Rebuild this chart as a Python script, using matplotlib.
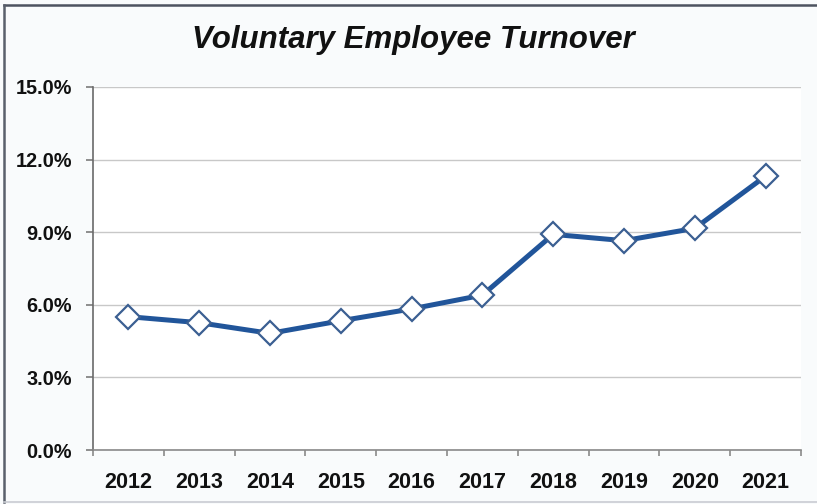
import matplotlib
matplotlib.use("Agg")
import matplotlib.pyplot as plt
from matplotlib.lines import Line2D
import numpy as np

years = ["2012", "2013", "2014", "2015", "2016", "2017", "2018", "2019", "2020", "2021"]
turnover = [5.51, 5.26, 4.82, 5.34, 5.83, 6.40, 8.91, 8.65, 9.16, 11.32]
y_ticks = [0, 3, 6, 9, 12, 15]
title = "Voluntary Employee Turnover"

plt.rcParams['font.family'] = ['Liberation Sans', 'DejaVu Sans']

W, H = 817, 504
fig = plt.figure(figsize=(W / 100, H / 100), dpi=100)
fig.patch.set_facecolor("#f9fbfc")

# frame lines around the chart (scan border)
fig.add_artist(Line2D([4 / W, 1], [1 - 5 / H, 1 - 5 / H], color="#4d5360", lw=1.8))
fig.add_artist(Line2D([4 / W, 4 / W], [1 - 5 / H, 2 / H], color="#5a606c", lw=1.8))
fig.add_artist(Line2D([4 / W, 1], [2.5 / H, 2.5 / H], color="#c9ccd2", lw=1.2))

left, right, bottom, top = 93, 801, 450, 87
ax = fig.add_axes([left / W, 1 - bottom / H, (right - left) / W, (bottom - top) / H])
ax.set_facecolor("white")

x = np.arange(len(years))
ax.plot(x, turnover, color="#21559a", lw=3.6, marker="D", markersize=12,
        markerfacecolor="white", markeredgecolor="#3b5f92", markeredgewidth=1.6,
        solid_joinstyle="round", zorder=3)

ax.set_xlim(-0.5, len(years) - 0.5)
ax.set_ylim(0, 15)

ax.set_yticks(y_ticks)
ax.set_yticklabels([f"{v:.1f}%" for v in y_ticks])
ax.grid(axis="y", color="#c8c8c8", lw=1.0)
ax.set_axisbelow(True)

ax.set_xticks(np.arange(-0.5, len(years), 1.0))
ax.set_xticklabels([])
ax.set_xticks(x, minor=True)
ax.set_xticklabels(years, minor=True)

for s in ["top", "right"]:
    ax.spines[s].set_visible(False)
ax.spines["left"].set_color("#6a6a6a")
ax.spines["bottom"].set_color("#8a8a8a")
ax.spines["left"].set_linewidth(1.2)
ax.spines["bottom"].set_linewidth(1.2)

ax.tick_params(axis="y", which="major", direction="out", length=5, width=1.1,
               color="#707070", pad=10, labelsize=14.3, labelcolor="#111111")
for lab in ax.get_yticklabels():
    lab.set_fontweight("bold")
ax.tick_params(axis="x", which="major", direction="out", length=4.5, width=1.1,
               color="#808080")
ax.tick_params(axis="x", which="minor", length=0, pad=15.5, labelsize=15.5,
               labelcolor="#111111")
for lab in ax.get_xticklabels(minor=True):
    lab.set_fontweight("bold")

fig.text(413 / W, 1 - 48 / H, title, ha="center", va="baseline",
         fontsize=22.5, fontweight="bold", fontstyle="italic", color="#111111")

fig.savefig("out.png", dpi=100, facecolor=fig.get_facecolor())
